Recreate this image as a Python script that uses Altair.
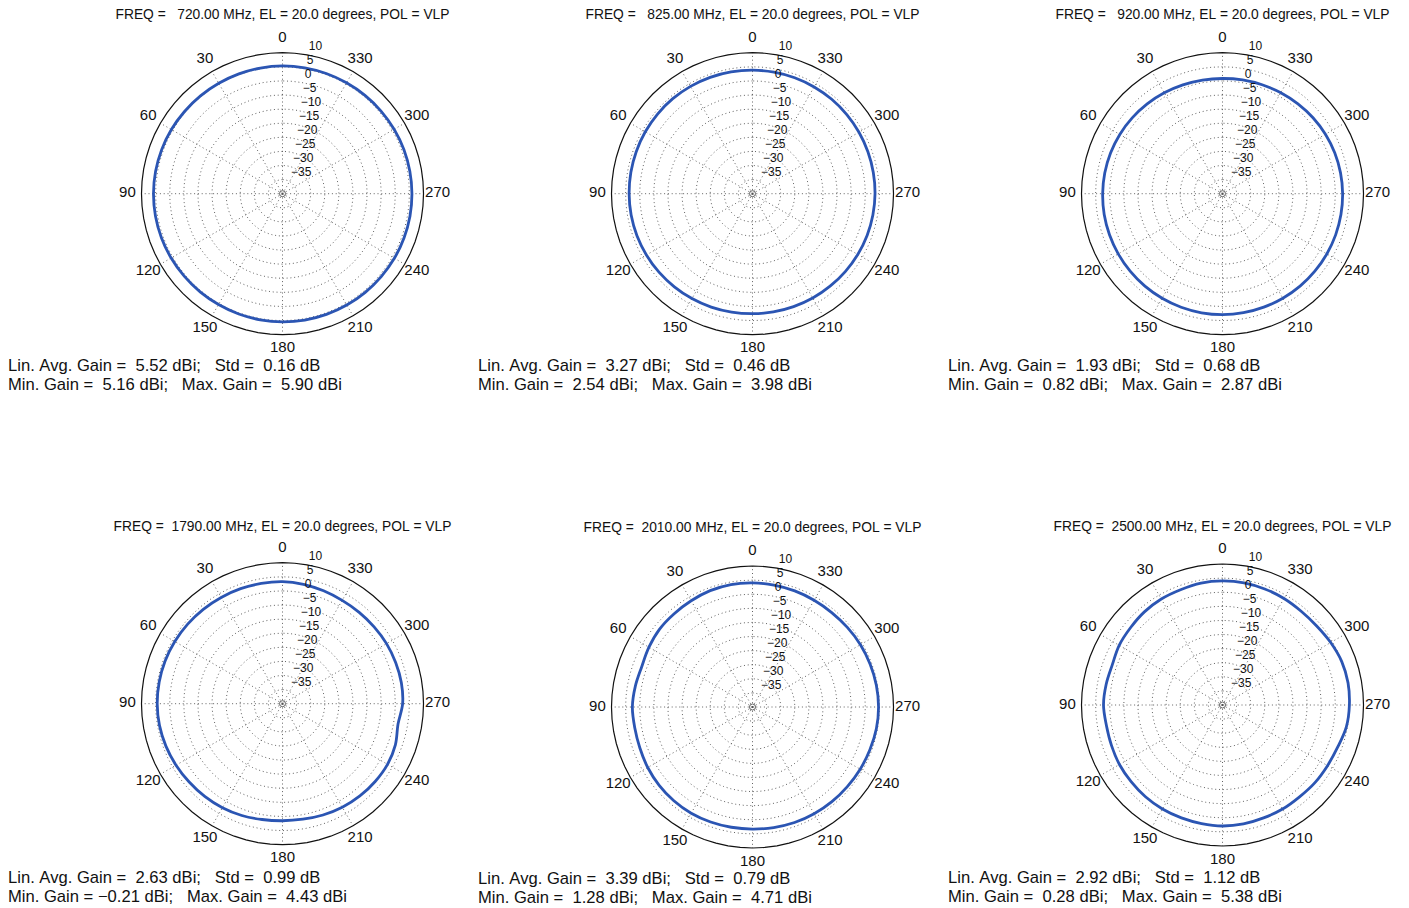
import altair as alt
import pandas as pd

# ---------------- data ----------------
ANGLES = list(range(0, 360, 10))   # azimuth, degrees (0 at top, counter-clockwise)

GAIN_720 = [5.30, 5.25, 5.20, 5.20, 5.25, 5.35, 5.50, 5.60, 5.70, 5.75, 5.75, 5.70,
            5.60, 5.50, 5.45, 5.40, 5.40, 5.40, 5.45, 5.50, 5.55, 5.60, 5.65, 5.70,
            5.80, 5.85, 5.90, 5.90, 5.85, 5.80, 5.70, 5.60, 5.50, 5.40, 5.35, 5.30]
GAIN_825 = [3.80, 3.85, 3.90, 3.95, 3.98, 3.95, 3.90, 3.85, 3.80, 3.75, 3.70, 3.60,
            3.45, 3.30, 3.10, 2.95, 2.80, 2.65, 2.55, 2.55, 2.60, 2.70, 2.80, 2.95,
            3.10, 3.25, 3.35, 3.45, 3.50, 3.55, 3.60, 3.65, 3.70, 3.72, 3.75, 3.78]
GAIN_920 = [0.85, 0.90, 1.05, 1.30, 1.55, 1.80, 2.05, 2.25, 2.40, 2.50, 2.60, 2.65,
            2.70, 2.75, 2.80, 2.82, 2.85, 2.87, 2.87, 2.85, 2.82, 2.80, 2.78, 2.75,
            2.72, 2.70, 2.65, 2.60, 2.50, 2.35, 2.15, 1.90, 1.60, 1.35, 1.10, 0.95]
GAIN_1790 = [3.30, 3.30, 3.40, 3.50, 3.70, 3.90, 4.10, 4.30, 4.40, 4.43, 4.30, 4.00,
             3.60, 3.20, 2.90, 2.60, 2.20, 1.70, 1.50, 1.60, 2.00, 2.40, 2.70, 2.90,
             3.00, 2.60, 1.60, 2.60, 2.80, 2.70, 2.60, 2.40, 2.30, 2.30, 2.60, 3.00]
GAIN_2010 = [4.00, 4.10, 3.90, 3.50, 3.20, 3.00, 2.40, 1.80, 2.20, 2.60, 2.40, 2.50,
             2.90, 3.20, 3.40, 3.50, 3.40, 3.30, 3.30, 3.40, 3.60, 3.70, 3.80, 3.90,
             4.10, 4.30, 4.60, 4.70, 4.60, 4.40, 4.20, 3.90, 3.70, 3.70, 3.80, 3.90]
GAIN_2500 = [4.00, 3.90, 3.50, 3.40, 3.10, 2.60, 2.30, 1.60, 1.90, 2.20, 1.80, 1.90,
             2.20, 2.30, 2.50, 2.60, 2.60, 2.70, 2.90, 2.80, 2.60, 2.60, 2.50, 2.80,
             3.00, 3.50, 4.60, 5.00, 5.20, 5.00, 4.30, 3.60, 3.40, 3.60, 3.80, 4.00]
GAINS = [GAIN_720, GAIN_825, GAIN_920, GAIN_1790, GAIN_2010, GAIN_2500]

FREQS = ["720.00", "825.00", "920.00", "1790.00", "2010.00", "2500.00"]
AVG = ["5.52", "3.27", "1.93", "2.63", "3.39", "2.92"]
STD = ["0.16", "0.46", "0.68", "0.99", "0.79", "1.12"]
MINS = ["5.16", "2.54", "0.82", "\u22120.21", "1.28", "0.28"]
MAXS = ["5.90", "3.98", "2.87", "4.43", "4.71", "5.38"]

RING_LEVELS = [-35, -30, -25, -20, -15, -10, -5, 0, 5]      # dotted rings, dB
OUTER_LEVEL = 10                                             # solid outer ring, dB
RLABEL_LEVELS = [-35, -30, -25, -20, -15, -10, -5, 0, 5, 10]
SPOKE_ANGLES = list(range(0, 360, 30))
RING_STEPS = list(range(0, 361, 5))

# ---------------- layout constants ----------------
K = 2.82        # pixels per dB
R0 = 40         # dB at the centre
CX = 274.5
PW = [470, 470, 450]
PH = [512, 385]
CY = [[184.7, 184.7, 184.7], [182.7, 186.0, 184.0]]
TSHIFT = [[0, 0, 0], [0, 1, 0]]
FONT = "Liberation Sans"
BLUE = "#2b55b3"
GRID = "#505050"


def sp(s):
    return s.replace(" ", "\u00a0")


def fmt(v, w):
    return v.rjust(w)


def panel(i, row, col):
    w, h, cy = PW[col], PH[row], CY[row][col]
    ts = TSHIFT[row][col]
    xs = alt.Scale(domain=[-CX / K, (w - CX) / K], nice=False, zero=False)
    ys = alt.Scale(domain=[-(h - cy) / K, cy / K], nice=False, zero=False)

    def X(f):
        return alt.X(f, type="quantitative", scale=xs, axis=None)

    def Y(f):
        return alt.Y(f, type="quantitative", scale=ys, axis=None)

    ring_df = pd.DataFrame([(lv, a) for lv in RING_LEVELS for a in RING_STEPS],
                           columns=["level", "angle"])
    rings = alt.Chart(ring_df).transform_calculate(
        r=f"datum.level + {R0}",
        x="-datum.r * sin(datum.angle * PI / 180)",
        y="datum.r * cos(datum.angle * PI / 180)",
    ).mark_line(stroke=GRID, strokeWidth=0.9, strokeDash=[1, 2.8]).encode(
        x=X("x"), y=Y("y"), detail="level:N", order="angle:Q")

    outer_df = pd.DataFrame({"level": OUTER_LEVEL, "angle": RING_STEPS})
    outer = alt.Chart(outer_df).transform_calculate(
        r=f"datum.level + {R0}",
        x="-datum.r * sin(datum.angle * PI / 180)",
        y="datum.r * cos(datum.angle * PI / 180)",
    ).mark_line(stroke="#111111", strokeWidth=1.2).encode(
        x=X("x"), y=Y("y"), order="angle:Q")

    spoke_df = pd.DataFrame({"angle": SPOKE_ANGLES})
    spokes = alt.Chart(spoke_df).transform_calculate(
        x0="0", y0="0",
        x1=f"-({OUTER_LEVEL} + {R0}) * sin(datum.angle * PI / 180)",
        y1=f"({OUTER_LEVEL} + {R0}) * cos(datum.angle * PI / 180)",
    ).mark_rule(stroke=GRID, strokeWidth=0.9, strokeDash=[1, 2.8]).encode(
        x=X("x0"), y=Y("y0"), x2="x1:Q", y2="y1:Q")

    centre = alt.Chart(pd.DataFrame({"x": [0], "y": [0]})).mark_point(
        shape="circle", size=36, stroke=GRID, strokeWidth=0.9, filled=False, opacity=1
    ).encode(x=X("x"), y=Y("y"))

    curve_df = pd.DataFrame({"angle": ANGLES, "gain": GAINS[i]})
    curve = alt.Chart(curve_df).transform_calculate(
        r=f"datum.gain + {R0}",
        x="-datum.r * sin(datum.angle * PI / 180)",
        y="datum.r * cos(datum.angle * PI / 180)",
    ).mark_line(stroke=BLUE, strokeWidth=2.8, interpolate="cardinal-closed").encode(
        x=X("x"), y=Y("y"), order="angle:Q")

    alab_df = pd.DataFrame({"angle": SPOKE_ANGLES, "label": [str(a) for a in SPOKE_ANGLES]})
    alabels = alt.Chart(alab_df).transform_calculate(
        x="-55 * sin(datum.angle * PI / 180)",
        y="55 * cos(datum.angle * PI / 180)",
    ).mark_text(font=FONT, fontSize=15, color="#111111", align="center",
                baseline="middle", dy=-1.5).encode(x=X("x"), y=Y("y"), text="label:N")

    rlab_df = pd.DataFrame({"level": RLABEL_LEVELS,
                            "label": [str(v).replace("-", "\u2212") for v in RLABEL_LEVELS]})
    rlabels = alt.Chart(rlab_df).transform_calculate(
        r=f"datum.level + {R0} + 0.25",
        x="datum.r * cos(82 * PI / 180)",
        y="datum.r * sin(82 * PI / 180)",
    ).mark_text(font=FONT, fontSize=12, color="#111111", align="left",
                baseline="bottom", dx=6.5, dy=-0.5).encode(x=X("x"), y=Y("y"), text="label:N")

    title_txt = sp(f"FREQ = {fmt(FREQS[i], 8)} MHz, EL = 20.0 degrees, POL = VLP")
    title = alt.Chart(pd.DataFrame({"t": [title_txt]})).mark_text(
        font=FONT, fontSize=13.8, color="#111111", align="center", baseline="middle"
    ).encode(x=alt.value(CX), y=alt.value(6 + ts), text="t:N")

    l1 = sp(f"Lin. Avg. Gain = {fmt(AVG[i], 5)} dBi;   Std = {fmt(STD[i], 5)} dB")
    l2 = sp(f"Min. Gain = {fmt(MINS[i], 5)} dBi;   Max. Gain = {fmt(MAXS[i], 5)} dBi")
    stats = alt.Chart(pd.DataFrame({"t": [l1, l2], "k": [0, 1]})).transform_calculate(
        py=f"{357 + ts} + datum.k * 19"
    ).mark_text(font=FONT, fontSize=16.6, color="#111111", align="left",
                baseline="middle").encode(x=alt.value(0),
                                          y=alt.Y("py:Q", scale=None, axis=None),
                                          text="t:N")

    return alt.layer(rings, spokes, centre, outer, curve, alabels, rlabels, title,
                     stats).properties(width=w, height=h)


panels = [panel(r * 3 + c, r, c) for r in range(2) for c in range(3)]

chart = alt.concat(*panels, columns=3, spacing=0, bounds="flush").properties(
    padding=0, background="white"
).configure_view(stroke=None)

chart.save("out.html", embed_options={"renderer": "svg", "actions": False})
